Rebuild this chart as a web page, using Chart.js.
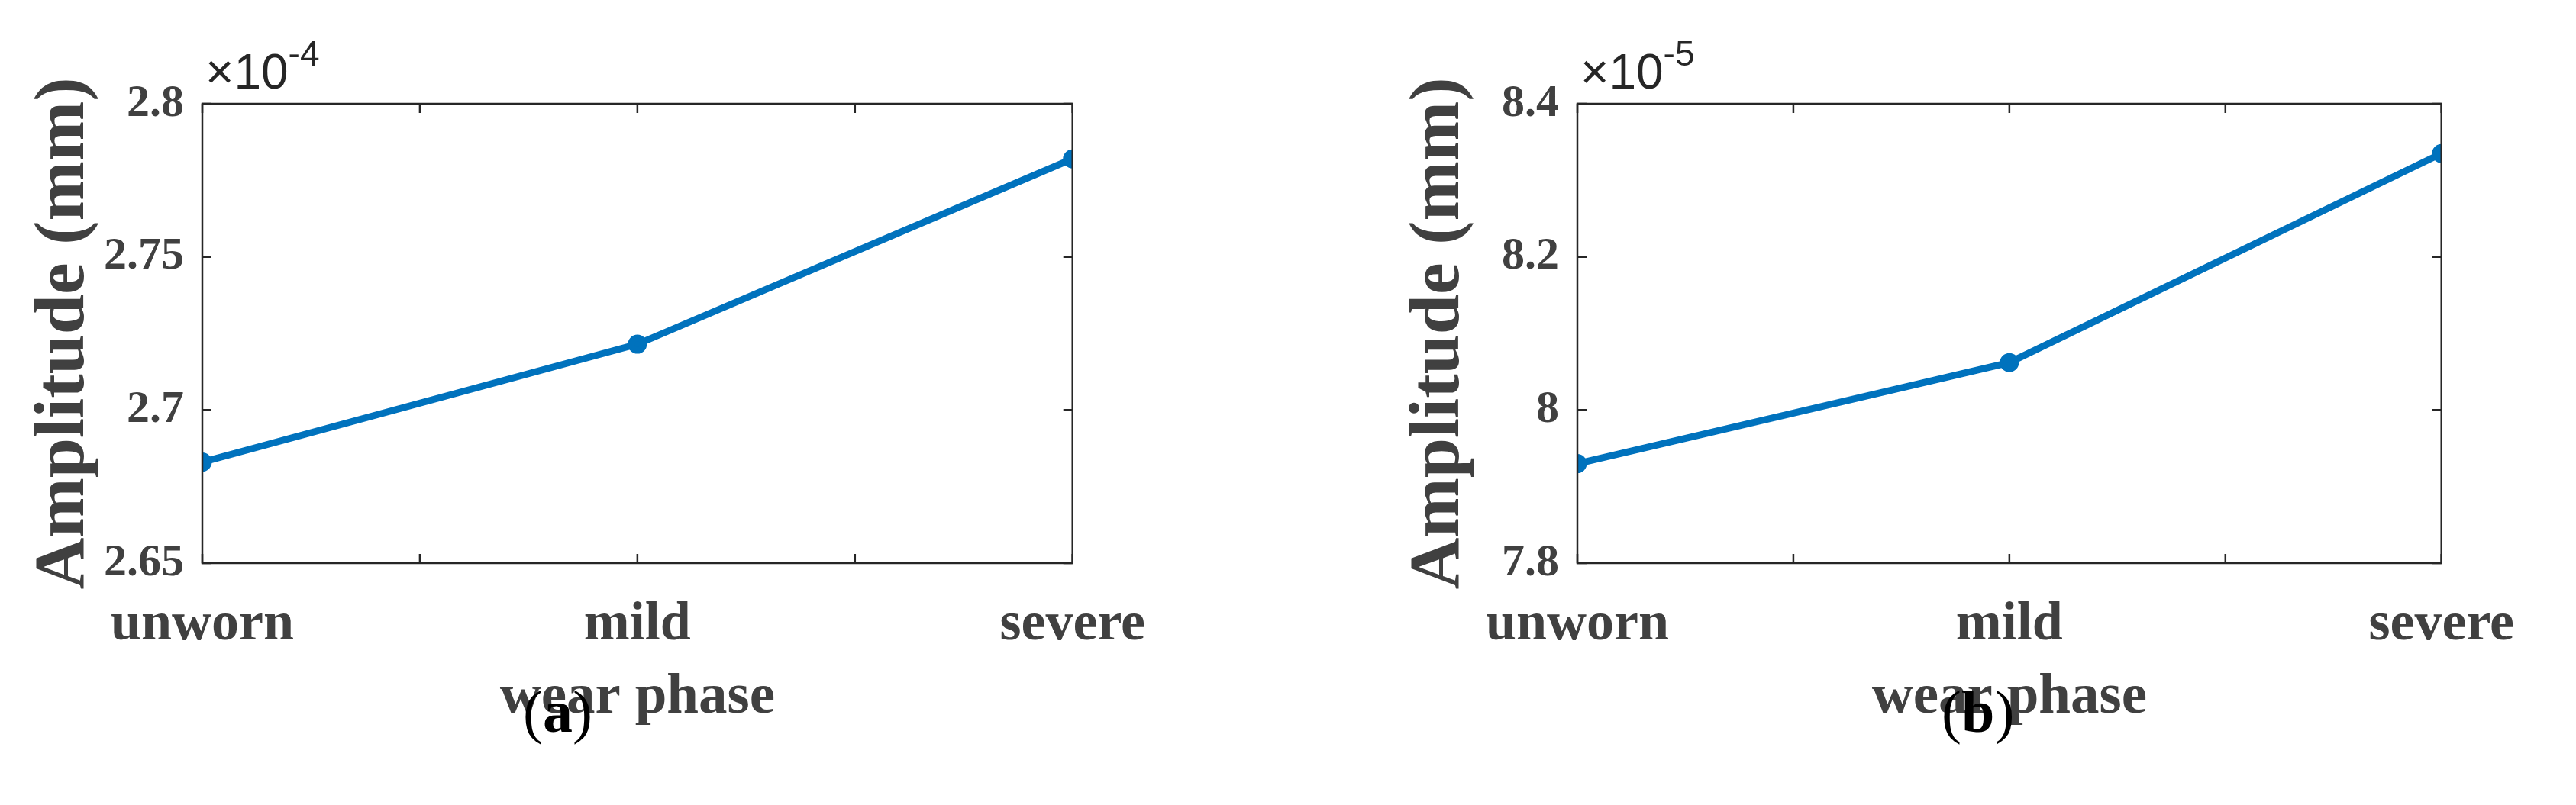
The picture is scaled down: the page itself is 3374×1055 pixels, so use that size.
<!DOCTYPE html>
<html><head><meta charset="utf-8">
<script src="https://cdn.jsdelivr.net/npm/chart.js@4/dist/chart.umd.min.js"></script>
<style>
body{margin:0;background:#fff;width:3374px;height:1055px;position:relative;overflow:hidden}
.c{position:absolute;top:0}
.cap{position:absolute;top:888px;font-family:"Liberation Serif";font-size:78px;color:#000}
</style></head><body>
<div class="c" style="left:0;width:1530px;height:960px"><canvas id="a"></canvas></div>
<div class="c" style="left:1801px;width:1522px;height:960px"><canvas id="b"></canvas></div>
<div class="cap" style="left:685px">(<b>a</b>)</div>
<div class="cap" style="left:2543px">(<b>b</b>)</div>
<script>
const categories=["unworn","mild","severe"];
const seriesA=[2.683,2.7215,2.782];
const seriesB=[7.93,8.062,8.335];
const ticksA=[2.65,2.7,2.75,2.8];
const ticksB=[7.8,8,8.2,8.4];
const expA="-4", expB="-5";
const grey="#404040";
const frame={id:"frame",afterDraw(ch,args,o){
  const c=ch.ctx,a=ch.chartArea,x=ch.scales.x,y=ch.scales.y;
  c.save();c.strokeStyle="#262626";c.lineWidth=2.5;
  c.strokeRect(a.left,a.top,a.right-a.left,a.bottom-a.top);
  const L=12;
  for(let v=0;v<=2;v+=0.5){const px=x.getPixelForValue(v);
    c.beginPath();c.moveTo(px,a.bottom);c.lineTo(px,a.bottom-L);c.moveTo(px,a.top);c.lineTo(px,a.top+L);c.stroke();}
  y.ticks.forEach(t=>{const py=y.getPixelForValue(t.value);
    c.beginPath();c.moveTo(a.left,py);c.lineTo(a.left+L,py);c.moveTo(a.right,py);c.lineTo(a.right-L,py);c.stroke();});
  c.fillStyle="#262626";c.font="64px 'Liberation Sans'";c.textBaseline="alphabetic";
  c.fillText("\u00d710",a.left+4,a.top-20);
  const w=c.measureText("\u00d710").width;
  c.font="46px 'Liberation Sans'";c.fillText(o.exp,a.left+4+w,a.top-50);
  c.restore();}};
function make(id,data,ticks,exp){
  const f={family:"Liberation Serif",weight:"bold"};
  new Chart(document.getElementById(id),{type:"line",
    data:{datasets:[{data:data.map((v,i)=>({x:i,y:v})),borderColor:"#0072BD",backgroundColor:"#0072BD",
      borderWidth:9,pointRadius:8,pointHoverRadius:8}]},
    options:{responsive:true,maintainAspectRatio:false,animation:false,
      layout:{padding:{top:136,right:58,left:0,bottom:0}},
      plugins:{legend:{display:false},tooltip:{enabled:false},frame:{exp}},
      scales:{
        x:{type:"linear",min:0,max:2,grid:{display:false},border:{display:false},
          afterFit:s=>{s.height=222},
          ticks:{stepSize:1,color:grey,font:{...f,size:72},padding:30,maxRotation:0,callback:v=>categories[v]},
          title:{display:true,text:"wear phase",color:grey,font:{...f,size:75},padding:{top:24,bottom:0}}},
        y:{min:ticks[0],max:ticks[ticks.length-1],afterFit:s=>{s.width=265},
          afterBuildTicks:s=>{s.ticks=ticks.map(v=>({value:v}))},
          grid:{display:false},border:{display:false},
          ticks:{color:grey,font:{...f,size:60},padding:16,callback:v=>String(v)},
          title:{display:true,text:"Amplitude (mm)",color:grey,font:{...f,size:94},padding:{top:28,bottom:0}}}}},
    plugins:[frame]});
}
make("a",seriesA,ticksA,expA);
make("b",seriesB,ticksB,expB);
</script></body></html>
